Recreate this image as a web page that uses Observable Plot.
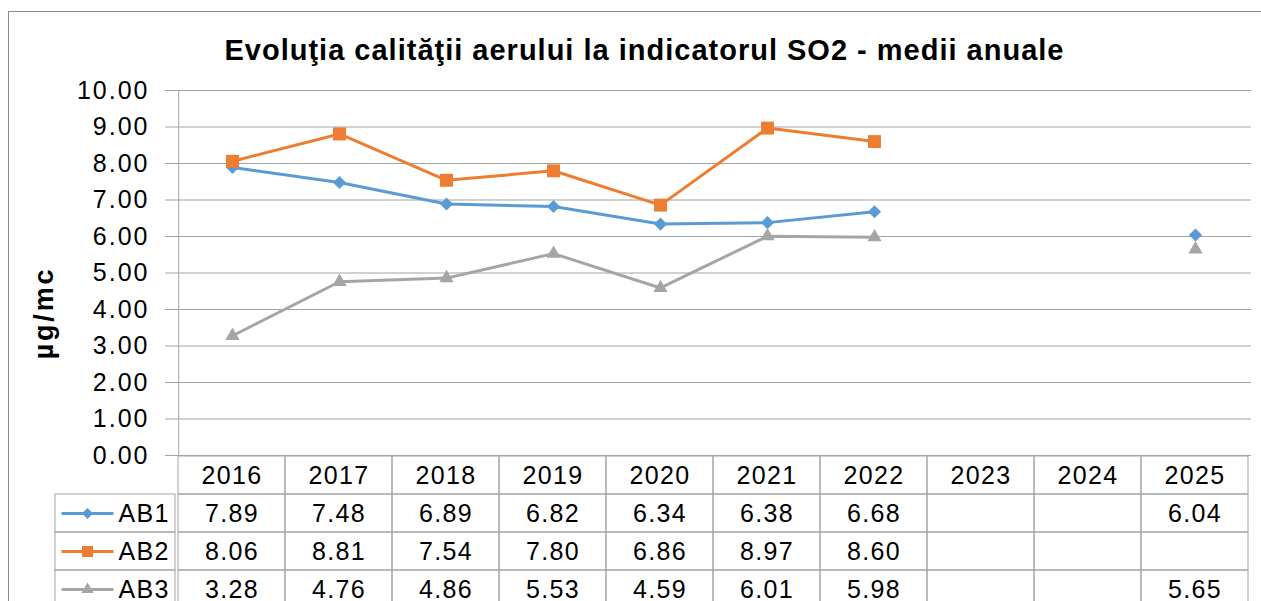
<!DOCTYPE html>
<html><head><meta charset="utf-8">
<script src="https://cdn.jsdelivr.net/npm/d3@7"></script>
<script src="https://cdn.jsdelivr.net/npm/@observablehq/plot@0.6"></script>
<style>
body{margin:0;background:#fff;}
#wrap{position:relative;width:1261px;height:601px;overflow:hidden;font-family:"Liberation Sans",Arial,sans-serif;background:#fff;}
#border{position:absolute;left:8px;top:11px;width:1300px;height:700px;border:1px solid #8c8c8c;}
#title{position:absolute;left:14px;width:1261px;top:35.5px;line-height:29px;text-align:center;font-weight:bold;font-size:29px;letter-spacing:1px;color:#000;white-space:nowrap;}
#ylab{position:absolute;left:44px;top:313px;transform:translate(-50%,-50%) rotate(-90deg);font-weight:bold;font-size:27px;letter-spacing:2.8px;white-space:nowrap;color:#000;}
.abs{position:absolute;}
</style></head><body>
<div id="wrap">
  <div id="border"></div>
  <div id="title">Evoluţia calităţii aerului la indicatorul SO2 - medii anuale</div>
  <div id="ylab">µg/mc</div>
  <div id="chart" class="abs" style="left:0;top:0"></div>
  <div id="table" class="abs" style="left:0;top:450px"></div>
  <div id="legend" class="abs" style="left:50px;top:450px"></div>
</div>
<script>
const years = ["2016","2017","2018","2019","2020","2021","2022","2023","2024","2025"];
const ab1 = [7.89, 7.48, 6.89, 6.82, 6.34, 6.38, 6.68, null, null, 6.04];
const ab2 = [8.06, 8.81, 7.54, 7.80, 6.86, 8.97, 8.60, null, null, null];
const ab3 = [3.28, 4.76, 4.86, 5.53, 4.59, 6.01, 5.98, null, null, 5.65];
const seriesNames = ["AB1", "AB2", "AB3"];
const seriesColors = ["#5B9BD5", "#ED7D31", "#A5A5A5"];
const seriesSymbols = ["diamond2", "square", "triangle"];
const seriesR = [5.9, 7.3, 5.3];
const yTicks = [0,1,2,3,4,5,6,7,8,9,10];

const seriesValues = [ab1, ab2, ab3];
const fmt = d3.format(".2f");
const grid = "#a3a3a3";
const W = 1261, ML = 175, MR = 10;
const step = (W - ML - MR) / years.length;

const series = seriesNames.map((name, k) => ({
  name, color: seriesColors[k], symbol: seriesSymbols[k], r: seriesR[k],
  data: years.map((year, i) => ({year, value: seriesValues[k][i]}))
}));

const baseStyle = {fontFamily: "Liberation Sans, Arial, sans-serif", fontSize: "25px", color: "#000", background: "transparent", overflow: "visible"};

const chartMarks = [
  Plot.ruleY(yTicks, {stroke: grid, strokeWidth: 1}),
  Plot.axisY({ticks: yTicks, tickFormat: fmt, tickSize: 10, tickPadding: 16, stroke: grid, fill: "#000", fontSize: 25, label: null}),
  Plot.ruleX([years[0]], {dx: -step / 2, stroke: grid, strokeWidth: 1})
];
for (const s of series) {
  chartMarks.push(Plot.line(s.data, {x: "year", y: "value", stroke: s.color, strokeWidth: 3, strokeLinejoin: "round"}));
  chartMarks.push(Plot.dot(s.data.filter(d => d.value != null), {x: "year", y: "value", symbol: s.symbol, r: s.r, fill: s.color, stroke: "none"}));
}

const chart = Plot.plot({
  width: W, height: 460,
  marginLeft: ML, marginRight: MR, marginTop: 90, marginBottom: 5,
  style: {...baseStyle, letterSpacing: "2px"},
  x: {type: "point", domain: years, padding: 0.5, axis: null},
  y: {domain: [0, 10], axis: null},
  marks: chartMarks
});
document.getElementById("chart").append(chart);

// Data table
const rows = ["hdr", ...seriesNames];
const cells = [];
for (const r of rows) for (const y of years) cells.push({year: y, row: r});
const valueCells = [];
series.forEach(s => s.data.forEach(d => { if (d.value != null) valueCells.push({year: d.year, row: s.name, text: fmt(d.value)}); }));

const table = Plot.plot({
  width: W, height: 5 + 38.5 * 4,
  marginLeft: ML, marginRight: MR, marginTop: 5, marginBottom: 0,
  style: {...baseStyle, letterSpacing: "1.3px"},
  x: {type: "band", domain: years, padding: 0, axis: null},
  y: {type: "band", domain: rows, padding: 0, axis: null},
  marks: [
    Plot.cell(cells, {x: "year", y: "row", fill: "none", stroke: grid, strokeWidth: 1}),
    Plot.text(years, {x: d => d, y: () => "hdr", text: d => d, fill: "#000"}),
    Plot.text(valueCells, {x: "year", y: "row", text: "text", fill: "#000"})
  ]
});
document.getElementById("table").append(table);

// Legend column of the table
const lineSym = {draw(ctx) { ctx.moveTo(-26, 0); ctx.lineTo(26, 0); }};
const legendMarks = [
  Plot.cell(seriesNames, {y: d => d, fill: "none", stroke: grid, strokeWidth: 1})
];
series.forEach((s, k) => {
  legendMarks.push(Plot.dot([s.name], {y: d => d, symbol: lineSym, stroke: s.color, strokeWidth: 3, fill: "none", dx: -28}));
  legendMarks.push(Plot.dot([s.name], {y: d => d, symbol: s.symbol, r: s.r * 0.85, fill: s.color, stroke: "none", dx: -28}));
  legendMarks.push(Plot.text([s.name], {y: d => d, text: d => d, textAnchor: "start", dx: 3, fill: "#000"}));
});
const legend = Plot.plot({
  width: 126, height: 5 + 38.5 * 4,
  marginLeft: 5, marginRight: 1, marginTop: 5, marginBottom: 0,
  style: {...baseStyle, letterSpacing: "1.3px"},
  y: {type: "band", domain: rows, padding: 0, axis: null},
  marks: legendMarks
});
document.getElementById("legend").append(legend);
</script>
</body></html>
